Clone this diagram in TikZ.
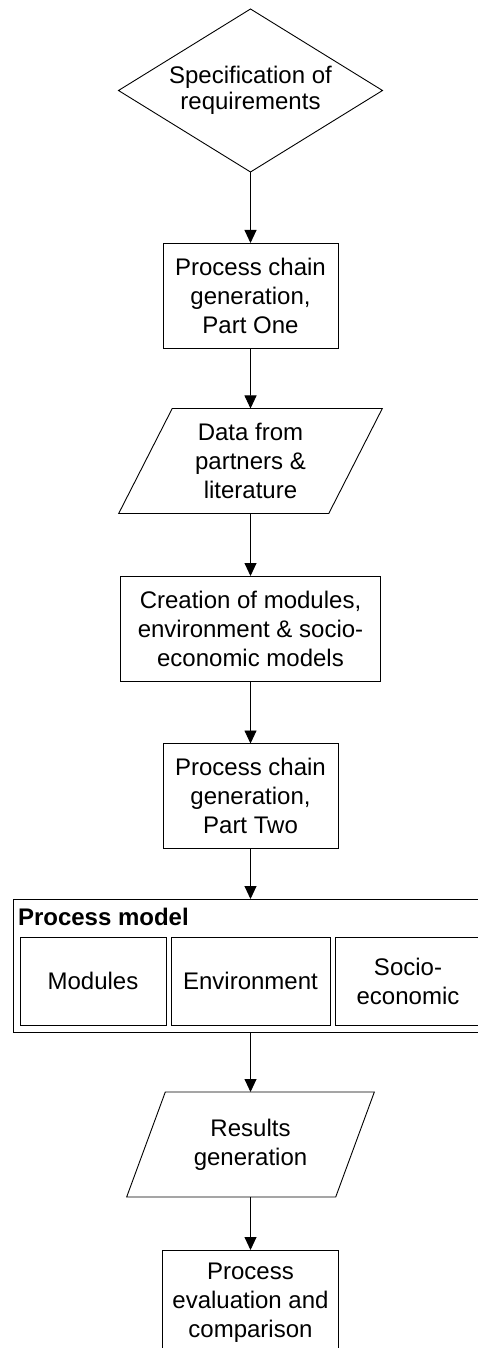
\documentclass[tikz,border=0pt]{standalone}
\usepackage{fontspec}
\setmainfont{Liberation Sans}
\usetikzlibrary{shapes.geometric,arrows.meta}
\begin{document}
\begin{tikzpicture}[x=1pt,y=-1pt,
  every node/.style={font=\fontsize{24}{29}\selectfont, align=center,
    inner sep=0pt, outer sep=0pt},
  stroke/.style={draw=black, line width=0.9pt},
  box/.style={stroke, rectangle, minimum width=175pt, minimum height=105pt},
  io/.style={stroke, trapezium, trapezium left angle=63.4,
    trapezium right angle=116.6, trapezium stretches=true,
    minimum height=105pt},
  decision/.style={stroke, diamond, minimum width=264pt, minimum height=163pt},
  sub/.style={stroke, rectangle, minimum height=88pt},
  flow/.style={line width=0.9pt, -{Triangle[width=12pt,length=13pt]}}
]
\useasboundingbox (0,0) rectangle (478,1348);
\clip (0,0) rectangle (478,1348);

% main chain
\node[decision, label={[name=spectxt, font=\fontsize{24}{26}\selectfont, align=center]center:Specification of\\requirements}]
  (spec) at (250.5,90.5) {};
\node[box] (pc1) at (250.5,295.5) {Process chain\\generation,\\Part One};
\node[io, minimum width=264pt] (data) at (250.5,461) {Data from\\partners \&\\literature};
\node[box, minimum width=260pt] (create) at (250.5,628.5)
  {Creation of modules,\\environment \& socio-\\economic models};
\node[box] (pc2) at (250.5,796) {Process chain\\generation,\\Part Two};

% process model container with its three parts
\node[stroke, rectangle, minimum width=475pt, minimum height=133pt] (pm) at (250.5,965.5) {};
\node[anchor=base west, font=\fontsize{24}{29}\selectfont\bfseries] (pmtitle) at (18,925) {Process model};
\node[sub, minimum width=146pt] (mod) at (93,981) {Modules};
\node[sub, minimum width=159pt] (env) at (250.5,981) {Environment};
\node[sub, minimum width=146pt] (soc) at (408,981) {Socio-\\economic};

\node[io, minimum width=248pt] (res) at (250.5,1144.5) {Results\\generation};
\node[box, minimum width=176pt] (eval) at (250.5,1302.5)
  {Process\\evaluation and\\comparison};

% connectors
\draw[flow] (spec.south) -- (pc1.north);
\draw[flow] (pc1.south) -- (data.north);
\draw[flow] (data.south) -- (create.north);
\draw[flow] (create.south) -- (pc2.north);
\draw[flow] (pc2.south) -- (pm.north);
\draw[flow] (pm.south) -- (res.north);
\draw[flow] (res.south) -- (eval.north);
\end{tikzpicture}
\end{document}
